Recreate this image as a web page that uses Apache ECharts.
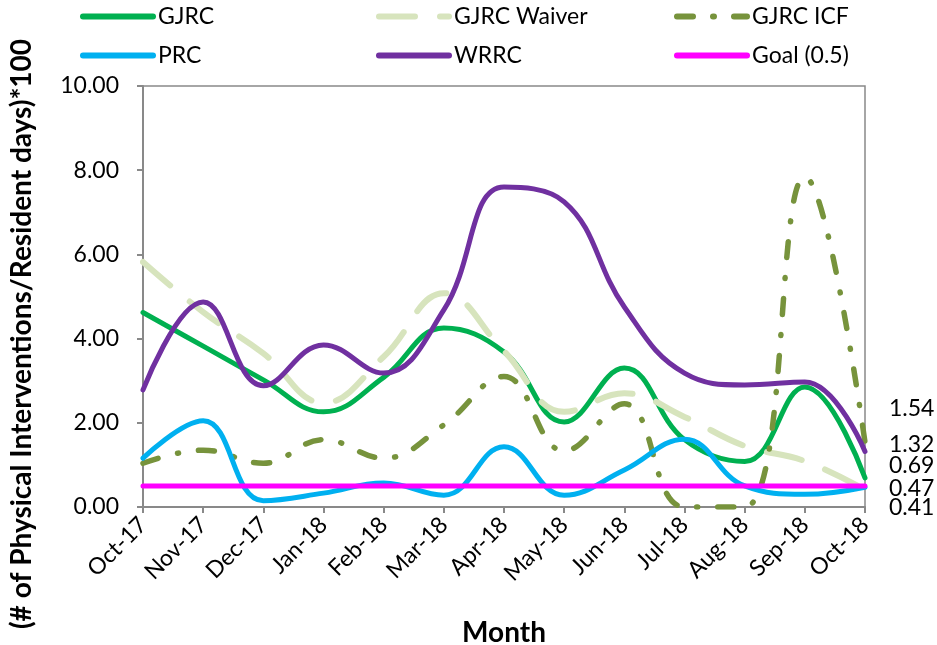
<!DOCTYPE html>
<html>
<head>
<meta charset="utf-8">
<script src="https://cdn.jsdelivr.net/npm/echarts@6/dist/echarts.min.js"></script>
<style>html,body{margin:0;padding:0;background:#fff}#c{width:937px;height:645px}</style>
</head>
<body>
<div id="c"></div>
<script>
var months = ['Oct-17','Nov-17','Dec-17','Jan-18','Feb-18','Mar-18','Apr-18','May-18','Jun-18','Jul-18','Aug-18','Sep-18','Oct-18'];
var gjrc = [4.62, 3.82, 3.02, 2.26, 3.08, 4.25, 3.68, 2.02, 3.30, 1.60, 1.08, 2.85, 0.69];
var gjrcWaiver = [5.82, 4.63, 3.65, 2.47, 3.57, 5.08, 3.70, 2.26, 2.70, 2.14, 1.45, 1.09, 0.41];
var gjrcIcf = [1.04, 1.35, 1.04, 1.60, 1.16, 1.95, 3.10, 1.33, 2.45, 0.00, 0.00, 7.84, 1.54];
var prc = [1.16, 2.05, 0.15, 0.33, 0.57, 0.28, 1.43, 0.28, 0.88, 1.61, 0.50, 0.30, 0.47];
var wrrc = [2.78, 4.87, 2.88, 3.85, 3.18, 4.68, 7.60, 7.25, 4.75, 3.18, 2.90, 2.97, 1.32];
var goal = [0.5, 0.5, 0.5, 0.5, 0.5, 0.5, 0.5, 0.5, 0.5, 0.5, 0.5, 0.5, 0.5];
var yTicks = [0, 2, 4, 6, 8, 10];

var FONT = 'Lato';
function lineSeries(name, data, color, width, type, dy) {
  var s = {
    name: name, type: 'line', data: data,
    smooth: 0.42, symbol: 'none', showSymbol: false,
    lineStyle: { color: color, width: width, type: type, cap: 'round' },
    itemStyle: { color: color },
    emphasis: { disabled: true }, animation: false
  };
  if (dy !== null) {
    s.endLabel = {
      show: true, distance: 24, offset: [0, dy],
      formatter: function (p) { return Number(p.value).toFixed(2); },
      fontFamily: FONT, fontSize: 23, color: '#000'
    };
  }
  return s;
}
var legendBase = {
  padding: 0, itemWidth: 70, itemHeight: 12,
  textStyle: { fontFamily: FONT, fontSize: 23, color: '#000' },
  itemStyle: { opacity: 0 },
  lineStyle: { width: 6 },
  selectedMode: false
};
function lg(name, left, top) {
  return Object.assign({}, legendBase, { data: [name], left: left, top: top });
}

var chart = echarts.init(document.getElementById('c'));
chart.setOption({
  backgroundColor: '#fff',
  animation: false,
  legend: [
    lg('GJRC', 80, 5), lg('GJRC Waiver', 376, 5), lg('GJRC ICF', 674, 5),
    lg('PRC', 80, 44), lg('WRRC', 376, 44), lg('Goal (0.5)', 674, 44)
  ],
  grid: { left: 143, right: 72, top: 86, bottom: 138, outerBoundsMode: 'none', containLabel: false, show: true, borderColor: '#898989', borderWidth: 1.5, backgroundColor: 'transparent' },
  xAxis: {
    type: 'category', data: months, boundaryGap: false,
    axisLine: { lineStyle: { color: '#898989', width: 2 } },
    axisTick: { show: true, length: 6, lineStyle: { color: '#898989', width: 2 } },
    axisLabel: { rotate: 45, fontFamily: FONT, fontSize: 23, color: '#000', margin: 14, interval: 0 },
    name: 'Month', nameLocation: 'middle', nameGap: 112,
    nameTextStyle: { fontFamily: FONT, fontSize: 28, fontWeight: 'bold', color: '#000' },
    splitLine: { show: false }
  },
  yAxis: {
    type: 'value', min: yTicks[0], max: yTicks[yTicks.length - 1], interval: 2,
    axisLine: { show: true, lineStyle: { color: '#898989', width: 2 } },
    axisTick: { show: true, length: 6, lineStyle: { color: '#898989', width: 2 } },
    axisLabel: { fontFamily: FONT, fontSize: 23, color: '#000', margin: 24, formatter: function (v) { return v.toFixed(2); } },
    splitLine: { show: false }
  },
  graphic: [{
    type: 'text', x: 22, y: 334, rotation: Math.PI / 2,
    style: { text: '(# of Physical Interventions/Resident days)*100', fontFamily: FONT, fontSize: 28, fontWeight: 'bold', fill: '#000', align: 'center', verticalAlign: 'middle' }
  }],
  series: [
    lineSeries('GJRC', gjrc, '#00b050', 5, 'solid', -12),
    lineSeries('GJRC Waiver', gjrcWaiver, '#d7e4bd', 6, [36, 25], 18),
    lineSeries('GJRC ICF', gjrcIcf, '#77933c', 5.5, [16, 20, 1, 20], -34),
    lineSeries('PRC', prc, '#00b0f0', 5, 'solid', 1),
    lineSeries('WRRC', wrrc, '#7030a0', 5, 'solid', -7),
    lineSeries('Goal (0.5)', goal, '#ff00ff', 5, 'solid', null)
  ]
});
</script>
</body>
</html>
